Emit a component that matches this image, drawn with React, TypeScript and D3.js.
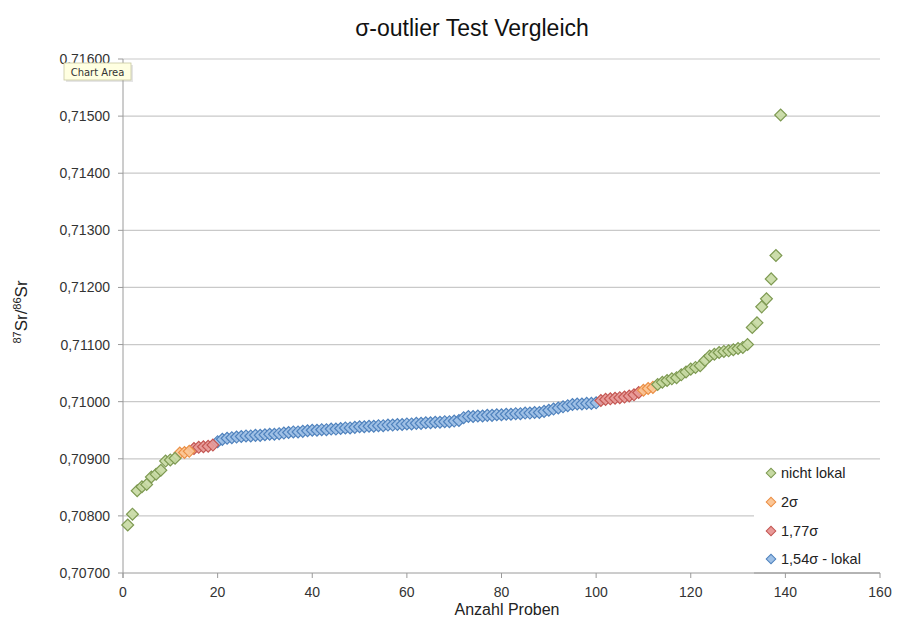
import React from "react";
import * as d3 from "d3";

const W = 905;
const H = 619;

const yTicks = [0.707, 0.708, 0.709, 0.71, 0.711, 0.712, 0.713, 0.714, 0.715, 0.716];
const xTicks = [0, 20, 40, 60, 80, 100, 120, 140, 160];

// nicht lokal (green)
const greenX = [1, 2, 3, 4, 5, 6, 7, 8, 9, 10, 11,
  113, 114, 115, 116, 117, 118, 119, 120, 121, 122, 123, 124, 125, 126, 127, 128, 129, 130, 131, 132,
  133, 134, 135, 136, 137, 138, 139];
const greenY = [0.70784, 0.70803, 0.70844, 0.70851, 0.70855, 0.70868, 0.70873, 0.70880, 0.70896, 0.70898, 0.70901,
  0.71030, 0.71034, 0.71037, 0.71040, 0.71042, 0.71047, 0.71052, 0.71057, 0.71060, 0.71063, 0.71072, 0.71080, 0.71083, 0.71086, 0.71088, 0.71089, 0.71091, 0.71093, 0.71095, 0.71100,
  0.71130, 0.71138, 0.71166, 0.71180, 0.71215, 0.71256, 0.71502];

// 2 sigma (orange)
const orangeX = [12, 13, 14, 110, 111, 112];
const orangeY = [0.70910, 0.70911, 0.70913, 0.71020, 0.71023, 0.71025];

// 1,77 sigma (red)
const redX = [15, 16, 17, 18, 19, 101, 102, 103, 104, 105, 106, 107, 108, 109];
const redY = [0.70918, 0.70920, 0.70921, 0.70922, 0.70924,
  0.71002, 0.71004, 0.71005, 0.71006, 0.71007, 0.71008, 0.71010, 0.71012, 0.71016];

// 1,54 sigma - lokal (blue), x = 20..100
const blueStart = 20;
const blueY = [
  0.70930, 0.70934, 0.70936, 0.70937, 0.70938, 0.70939, 0.70940, 0.70940, 0.70941, 0.70941,
  0.70942, 0.70943, 0.70943, 0.70944, 0.70945, 0.70946, 0.70947, 0.70947, 0.70948, 0.70949,
  0.70950, 0.70950, 0.70951, 0.70951, 0.70952, 0.70952, 0.70953, 0.70954, 0.70954, 0.70955,
  0.70956, 0.70956, 0.70957, 0.70957, 0.70958, 0.70958, 0.70959, 0.70959, 0.70960, 0.70960,
  0.70961, 0.70961, 0.70962, 0.70962, 0.70963, 0.70963, 0.70964, 0.70964, 0.70965, 0.70965,
  0.70966, 0.70967, 0.70972, 0.70974, 0.70974, 0.70975, 0.70975, 0.70976, 0.70976, 0.70977,
  0.70977, 0.70978, 0.70978, 0.70979, 0.70979, 0.70980, 0.70980, 0.70981, 0.70981, 0.70983,
  0.70985, 0.70987, 0.70989, 0.70991, 0.70993, 0.70995, 0.70996, 0.70996, 0.70997, 0.70997,
  0.70998,
];

const seriesNames = ["nicht lokal", "2σ", "1,77σ", "1,54σ - lokal"];

const FONT = "'Liberation Sans', Arial, Helvetica, sans-serif";

export default function App() {
  const x = d3.scaleLinear().domain([0, 160]).range([123, 880]);
  const y = d3.scaleLinear().domain([0.707, 0.716]).range([573, 59]);
  const fmt = (v: number) => d3.format(".5f")(v).replace(".", ",");

  const diamond = d3.symbol().type(d3.symbolSquare).size(70)();
  const legendDiamond = d3.symbol().type(d3.symbolSquare).size(46)();

  const styles = [
    { fill: "#c6d9a2", stroke: "#7e9a52" },
    { fill: "#fbc696", stroke: "#eb8f45" },
    { fill: "#e89a98", stroke: "#c45753" },
    { fill: "#9ec0e6", stroke: "#4f82bd" },
  ];

  const blueX = blueY.map((_, i) => blueStart + i);
  const series = [
    { xs: blueX, ys: blueY, st: styles[3] },
    { xs: redX, ys: redY, st: styles[2] },
    { xs: orangeX, ys: orangeY, st: styles[1] },
    { xs: greenX, ys: greenY, st: styles[0] },
  ];

  const legendRows = [473, 502, 531, 559];

  return (
    <svg width={W} height={H} style={{ position: "absolute", left: 0, top: 0, background: "#fff" }} fontFamily={FONT}>
      <rect x={0} y={0} width={W} height={H} fill="#fff" />
      {/* title */}
      <text x={472} y={36} textAnchor="middle" fontSize={23} fill="#111">σ-outlier Test Vergleich</text>

      {/* gridlines */}
      {yTicks.slice(1).map((t) => (
        <line key={"g" + t} x1={x(0)} x2={x(160)} y1={y(t)} y2={y(t)} stroke="#c9c9c9" strokeWidth={1.2} />
      ))}
      {/* y axis */}
      <line x1={x(0)} x2={x(0)} y1={y(0.716)} y2={y(0.707) + 5} stroke="#9a9a9a" strokeWidth={1} />
      {yTicks.map((t) => (
        <g key={"yt" + t}>
          <line x1={x(0) - 5} x2={x(0)} y1={y(t)} y2={y(t)} stroke="#9a9a9a" />
          <text x={110} y={y(t) + 5} textAnchor="end" fontSize={14} fill="#333">{fmt(t)}</text>
        </g>
      ))}
      {/* x axis */}
      <line x1={x(0)} x2={x(160)} y1={y(0.707)} y2={y(0.707)} stroke="#9a9a9a" strokeWidth={1} />
      {xTicks.map((t) => (
        <g key={"xt" + t}>
          <line x1={x(t)} x2={x(t)} y1={y(0.707)} y2={y(0.707) + 5} stroke="#9a9a9a" />
          <text x={x(t)} y={597} textAnchor="middle" fontSize={14} fill="#333">{t}</text>
        </g>
      ))}
      <text x={507} y={615} textAnchor="middle" fontSize={16} fill="#222">Anzahl Proben</text>

      {/* y label */}
      <text transform="translate(27,312) rotate(-90)" textAnchor="middle" fontSize={17} fill="#222">
        <tspan fontSize={11} dy={-6}>87</tspan>
        <tspan dy={6}>Sr/</tspan>
        <tspan fontSize={11} dy={-6}>86</tspan>
        <tspan dy={6}>Sr</tspan>
      </text>

      {/* points */}
      {series.map((s, si) => (
        <g key={"s" + si}>
          {s.xs.map((xv, i) => (
            <path
              key={i}
              d={diamond as string}
              transform={`translate(${x(xv)},${y(s.ys[i])}) rotate(45)`}
              fill={s.st.fill}
              stroke={s.st.stroke}
              strokeWidth={1.2}
              fillOpacity={0.9}
            />
          ))}
        </g>
      ))}

      {/* legend */}
      <rect x={754} y={461} width={140} height={108} fill="#fff" />
      {seriesNames.map((n, i) => (
        <g key={"l" + i}>
          <path d={legendDiamond as string} transform={`translate(771,${legendRows[i]}) rotate(45)`} fill={styles[i].fill} stroke={styles[i].stroke} strokeWidth={1} />
          <text x={781} y={legendRows[i] + 5} fontSize={14.5} fill="#222">{n}</text>
        </g>
      ))}
      {/* redraw axis segment under legend */}
      <line x1={754} x2={x(160)} y1={y(0.707)} y2={y(0.707)} stroke="#9a9a9a" strokeWidth={1} />

      {/* Chart Area tooltip */}
      <rect x={66} y={65} width={67} height={17} fill="#999" opacity={0.25} />
      <rect x={64} y={63} width={67} height={17} fill="#ffffe1" stroke="#c8c8a0" strokeWidth={0.8} />
      <text x={97.5} y={75.5} textAnchor="middle" fontSize={10} fill="#333" fontFamily="'DejaVu Sans', sans-serif">Chart Area</text>
    </svg>
  );
}
